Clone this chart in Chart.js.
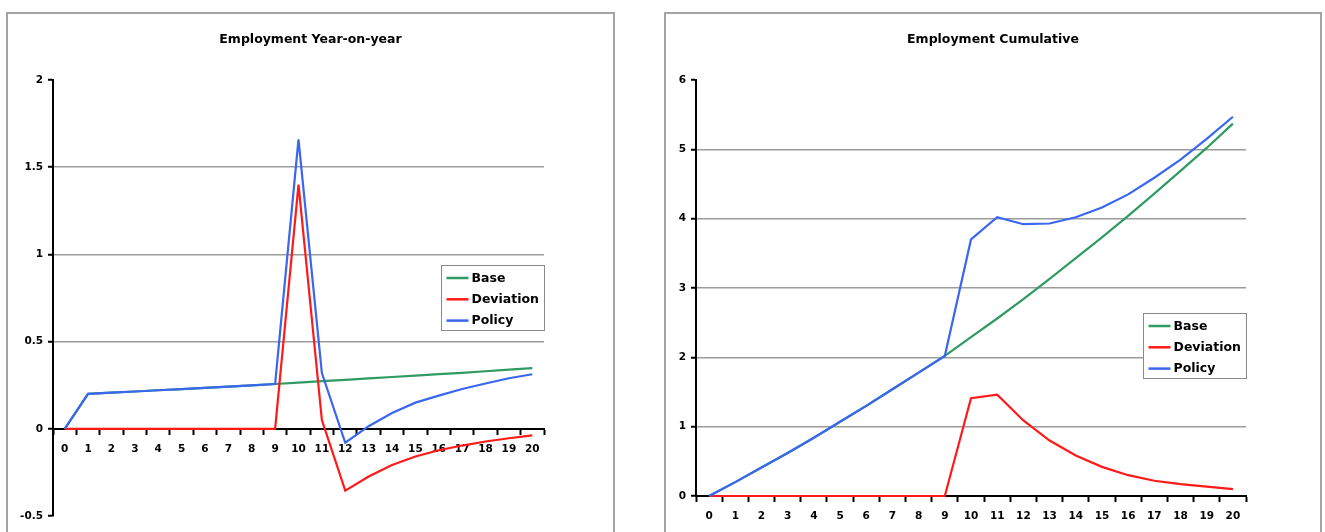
<!DOCTYPE html>
<html>
<head>
<meta charset="utf-8">
<title>Employment</title>
<script src="https://cdn.jsdelivr.net/npm/chart.js@4"></script>
<style>
  html, body { margin: 0; padding: 0; background: #fff; overflow: hidden; }
  body { width: 1325px; height: 532px; position: relative; }
  .panel { position: absolute; top: 12px; height: 533px; }
  .frame { position: absolute; top: 12px; height: 533px; box-sizing: border-box;
           border: 2px solid #a4a4a4; pointer-events: none; }
  canvas { display: block; }
</style>
</head>
<body>
<div class="panel" style="left:7px;width:607px"><canvas id="yoy" width="607" height="533"></canvas></div>
<div class="frame" style="left:6px;width:609px"></div>
<div class="panel" style="left:665px;width:656px"><canvas id="cum" width="656" height="533"></canvas></div>
<div class="frame" style="left:664px;width:658px"></div>
<script>
// Years after the start of the simulation
const years = ['0','1','2','3','4','5','6','7','8','9','10','11','12','13','14','15','16','17','18','19','20'];
const seriesNames = ['Base', 'Deviation', 'Policy'];

// Year-on-year employment change
const yoyTitle = 'Employment Year-on-year';
const yoyTicks = [-0.5, 0, 0.5, 1, 1.5, 2];
const yoyBase = [0, 0.200, 0.207, 0.214, 0.221, 0.228, 0.235, 0.242, 0.249, 0.257, 0.265,
                 0.273, 0.281, 0.289, 0.297, 0.305, 0.313, 0.321, 0.330, 0.339, 0.348];
const yoyDeviation = [0, 0, 0, 0, 0, 0, 0, 0, 0, 0, 1.400,
                      0.050, -0.355, -0.274, -0.207, -0.159, -0.123, -0.096, -0.073, -0.054, -0.038];
const yoyPolicy = [0, 0.200, 0.207, 0.214, 0.221, 0.228, 0.235, 0.242, 0.249, 0.257, 1.660,
                   0.320, -0.080, 0.015, 0.090, 0.150, 0.190, 0.228, 0.260, 0.290, 0.313];

// Cumulative employment change
const cumTitle = 'Employment Cumulative';
const cumTicks = [0, 1, 2, 3, 4, 5, 6];
const cumBase = [0, 0.20, 0.41, 0.62, 0.84, 1.07, 1.30, 1.54, 1.78, 2.02, 2.29,
                 2.56, 2.84, 3.13, 3.43, 3.73, 4.04, 4.36, 4.69, 5.02, 5.37];
const cumDeviation = [0, 0, 0, 0, 0, 0, 0, 0, 0, 0, 1.41,
                      1.46, 1.09, 0.80, 0.585, 0.42, 0.30, 0.22, 0.17, 0.135, 0.10];
const cumPolicy = [0, 0.20, 0.41, 0.62, 0.84, 1.07, 1.30, 1.54, 1.78, 2.02, 3.70,
                   4.02, 3.92, 3.93, 4.02, 4.16, 4.35, 4.59, 4.85, 5.15, 5.47];

const lineColors = ['#2f9a62', '#ff1a1a', '#3a66f0'];
const FONT = '"DejaVu Sans", "Liberation Sans", sans-serif';

// Title above the plot and a boxed legend inside the plot area
const panelDecor = {
  id: 'panelDecor',
  afterDraw(chart, args, opts) {
    const { ctx, chartArea: a } = chart;
    ctx.save();
    ctx.fillStyle = '#000';
    ctx.font = 'bold 12.5px ' + FONT;
    ctx.textAlign = 'center';
    ctx.textBaseline = 'middle';
    ctx.fillText(opts.title, chart.width / 2, opts.titleY);

    const w = 103, h = 65;
    const x0 = Math.round(a.right - w) + 0.5;
    const y0 = Math.round(a.top + opts.legendTop) + 0.5;
    ctx.fillStyle = '#fff';
    ctx.fillRect(x0, y0, w, h);
    ctx.strokeStyle = '#8a8a8a';
    ctx.lineWidth = 1;
    ctx.strokeRect(x0, y0, w, h);
    ctx.textAlign = 'left';
    chart.data.datasets.forEach((ds, i) => {
      const cy = y0 + 12.5 + i * 21.3;
      ctx.strokeStyle = ds.borderColor;
      ctx.lineWidth = 2.5;
      ctx.beginPath();
      ctx.moveTo(x0 + 5, cy);
      ctx.lineTo(x0 + 27, cy);
      ctx.stroke();
      ctx.fillStyle = '#000';
      ctx.fillText(ds.label, x0 + 30, cy + 0.5);
    });
    ctx.restore();
  }
};

function makeChart(id, title, series, ticks, yAxisWidth, padding, legendTop) {
  const lo = ticks[0], hi = ticks[ticks.length - 1];
  return new Chart(document.getElementById(id), {
    type: 'line',
    data: {
      labels: years,
      datasets: series.map((vals, i) => ({
        label: seriesNames[i],
        data: vals,
        borderColor: lineColors[i],
        backgroundColor: lineColors[i],
        borderWidth: 2.2,
        pointRadius: 0,
        tension: 0,
        clip: 4,
        // Policy above Deviation above Base
        order: [3, 2, 1][i]
      }))
    },
    options: {
      responsive: false,
      animation: false,
      events: [],
      layout: { padding: padding },
      plugins: {
        legend: { display: false },
        title: { display: false },
        tooltip: { enabled: false },
        panelDecor: { title: title, titleY: 28, legendTop: legendTop }
      },
      scales: {
        x: {
          type: 'category',
          position: { y: 0 },
          offset: true,
          grid: { display: true, offset: true, drawOnChartArea: false, drawTicks: true,
                  tickLength: 5, tickColor: '#000', tickWidth: 2 },
          border: { display: true, color: '#000', width: 2 },
          ticks: { color: '#000', padding: 9, maxRotation: 0, autoSkip: false,
                   font: { family: FONT, weight: 'bold', size: 10.5 } }
        },
        y: {
          type: 'linear',
          position: 'left',
          min: lo,
          max: hi,
          afterBuildTicks: s => { s.ticks = ticks.map(v => ({ value: v })); },
          afterFit: s => { s.width = yAxisWidth; },
          grid: {
            drawTicks: true, tickLength: 5, tickColor: '#000', tickWidth: 2, lineWidth: 1.5,
            color: c => (c.tick && (c.tick.value === lo || c.tick.value === hi || c.tick.value === 0))
              ? 'rgba(0,0,0,0)' : '#9c9c9c'
          },
          border: { display: true, color: '#000', width: 2 },
          ticks: { color: '#000', padding: 5, callback: v => String(v),
                   font: { family: FONT, weight: 'bold', size: 10.5 } }
        }
      }
    },
    plugins: [panelDecor]
  });
}

makeChart('yoy', yoyTitle, [yoyBase, yoyDeviation, yoyPolicy], yoyTicks, 46,
          { top: 68, right: 70, bottom: 29, left: 0 }, 185);
makeChart('cum', cumTitle, [cumBase, cumDeviation, cumPolicy], cumTicks, 31,
          { top: 68, right: 75, bottom: 49, left: 0 }, 233);
</script>
</body>
</html>
